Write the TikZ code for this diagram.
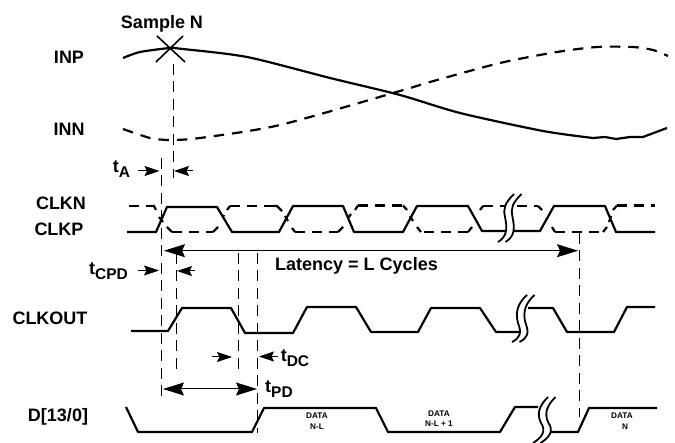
\documentclass[tikz,border=0pt]{standalone}
\usepackage{fontspec}
\setmainfont{Liberation Sans}
\usetikzlibrary{arrows.meta}
\newcommand{\tsub}[2]{\fontsize{18}{20}\selectfont\bfseries #1\raisebox{-4.5pt}{\fontsize{15.5}{16}\selectfont #2}}
\tikzset{
  sig/.style={line width=2.2pt,line join=round},
  sigd/.style={line width=2.2pt,dash pattern=on 10pt off 7pt},
  sigc/.style={line width=2.2pt},
  guide/.style={line width=1pt,dash pattern=on 11pt off 6.5pt},
  dim/.style={line width=1pt},
  lab/.style={font=\fontsize{18}{20}\selectfont\bfseries,inner sep=0pt},
  sm/.style={font=\fontsize{8.2}{9}\selectfont\bfseries,inner sep=0pt},
  brk/.style={line width=1.8pt},
  hsmall/.tip={Stealth[length=15pt,width=10pt,inset=2.5pt]},
  hlarge/.tip={Stealth[length=21pt,width=13pt,inset=3pt]},
}
\newcommand{\breakmark}[7]{%
  \fill[white] (#1) .. controls (#2) and (#3) .. (#4) .. controls (#5) and (#6) .. (#7) -- ([xshift=7.5pt]#7) .. controls ([xshift=7.5pt]#6) and ([xshift=7.5pt]#5) .. ([xshift=7.5pt]#4) .. controls ([xshift=7.5pt]#3) and ([xshift=7.5pt]#2) .. ([xshift=7.5pt]#1) -- cycle;
  \draw[brk] (#1) .. controls (#2) and (#3) .. (#4) .. controls (#5) and (#6) .. (#7);
  \draw[brk] ([xshift=7.5pt]#1) .. controls ([xshift=7.5pt]#2) and ([xshift=7.5pt]#3) .. ([xshift=7.5pt]#4) .. controls ([xshift=7.5pt]#5) and ([xshift=7.5pt]#6) .. ([xshift=7.5pt]#7);
}
\begin{document}
\begin{tikzpicture}[x=1pt,y=-1pt]
\useasboundingbox (0,0) rectangle (675,443);
% labels
\node[lab] (sn) at (162,23.5) {Sample N};
\node[lab] (inp) at (69,57) {INP};
\node[lab] (inn) at (69,129) {INN};
\node[lab] (clkn) at (61,203) {CLKN};
\node[lab] (clkp) at (59,229) {CLKP};
\node[lab] (clko) at (50,318) {CLKOUT};
\node[lab] (dd) at (58,417) {D[13/0]};
\node[lab] (lat) at (356.5,266) {Latency = L Cycles};
\node[inner sep=0pt] (ta) at (121.5,169) {\tsub{t}{A}};
\node[inner sep=0pt] (tc) at (108.5,271) {\tsub{t}{CPD}};
\node[inner sep=0pt] (tdc) at (295,358) {\tsub{t}{DC}};
\node[inner sep=0pt] (tpd) at (279,389) {\tsub{t}{PD}};
\node[sm] (d1) at (317,416) {DATA};
\node[sm] (d1b) at (317,427) {N-L};
\node[sm] (d2) at (439,413.5) {DATA};
\node[sm] (d2b) at (439,423.5) {N-L + 1};
\node[sm] (d3) at (622,416) {DATA};
\node[sm] (d3b) at (625,427) {N};
% analog
\draw[sig] plot[smooth,tension=.45] coordinates {(123,58) (140,52) (170,48) (180,48.7) (247,57) (330,78) (400,95) (460,113) (543,131) (593,138)} -- (605,137) -- (616,139) -- (630,137) -- (643,137) -- (667,128);
\draw[line width=2.2pt,dash pattern=on 10.5pt off 8pt] plot[smooth,tension=.45] coordinates {(123,129) (150,138) (170,140) (200,138) (280,125) (400,91) (430,82) (500,63) (557,52) (597,47) (633,47) (653,50) (668,56)};
\draw[line width=1.6pt] (157,36) -- (185,62) (183,36) -- (156,62);
% guides
\draw[guide] (173.3,64) -- (173.3,178);
\draw[guide] (161.7,158) -- (161.7,402);
\draw[guide] (176.4,253) -- (176.4,373);
\draw[guide] (238.5,253) -- (238.5,373);
\draw[guide] (257.3,253) -- (257.3,433);
\draw[guide] (579.3,233) -- (579.3,417);
% dimension arrows
\draw[dim,-hsmall] (138,171) -- (159.5,171);
\draw[dim,-hsmall] (193,171) -- (174,171);
\draw[dim,-hsmall] (138,270.5) -- (159,270.5);
\draw[dim,-hsmall] (195,271) -- (177,271);
\draw[dim,-hsmall] (212,357) -- (232,357);
\draw[dim,-hsmall] (278,356.5) -- (259,356.5);
\draw[dim,hlarge-hlarge] (163,389) -- (257,389);
\draw[dim,hlarge-hlarge] (164,250.7) -- (578,250.7);
% CLKP
\draw[sig] (127,232) -- (156,232) -- (167,207) -- (217,207) -- (232,232) -- (279,232) -- (293,206) -- (343,206) -- (354,232) -- (403,232) -- (417,206) -- (468,206) -- (482,231) -- (540,231) -- (554,206) -- (605,206) -- (616,232) -- (655,232);
% CLKN
\draw[sigd] (129,206) -- (151,206);
\draw[sigc] (151,206) -- (154,206) -- (156,210);
\draw[sigc] (159,217) -- (163,222);
\draw[sigc] (167,227) -- (172,232);
\draw[sigd] (172,232) -- (213,232);
\draw[sigc] (213,232) -- (218,227);
\draw[sigc] (223,217) -- (224,215);
\draw[sigc] (227,210) -- (230,206);
\draw[sigd] (230,206) -- (273,206);
\draw[sigc] (273,206) -- (277,206) -- (282,211);
\draw[sigc] (285,216) -- (288,221);
\draw[sigc] (292,228) -- (295,232);
\draw[sigd] (295,232) -- (338,232);
\draw[sigc] (338,232) -- (343,227);
\draw[sigc] (348,218) -- (351,214);
\draw[sigc] (355,210) -- (358,205.5);
\draw[sigd] (358,205.5) -- (403,205.5);
\draw[sigc] (403,205.5) -- (407,210);
\draw[sigc] (410,216) -- (413,221);
\draw[sigc] (417,227) -- (421,232);
\draw[sigd] (424,232) -- (468,232);
\draw[sigc] (468,232) -- (472,227);
\draw[sigc] (480,210) -- (483,206);
\draw[sigd] (483,206) -- (538,206);
\draw[sigc] (538,206) -- (542,210);
\draw[sigc] (552,227) -- (555,232);
\draw[sigd] (555,232) -- (603,232);
\draw[sigc] (603,232) -- (607,227);
\draw[sigc] (609,222) -- (611,216);
\draw[sigc] (613,210) -- (617,205.5);
\draw[sigd] (617,205.5) -- (655,205.5);
\breakmark{514,194}{505,203}{503,208}{505,217}{507,227}{508,236}{498,242}
% CLKOUT
\draw[sig] (131,331) -- (168,331) -- (182,308) -- (231,308) -- (245,333) -- (293,333) -- (307,307) -- (356,307) -- (371,332) -- (418,332) -- (431,308) -- (480,308) -- (496,332) -- (522,332);
\draw[sig] (528,308) -- (553,308) -- (567,332) -- (614,332) -- (627,307) -- (655,307);
\breakmark{527,295}{518,303}{515,312}{518,323}{522,333}{520,338}{512,342}
% D
\draw[sig] (126,407) -- (138,432) -- (252,432) -- (264,408) -- (376,408) -- (388,432) -- (500,432) -- (515,407) -- (538,407);
\draw[sig] (546,432) -- (578,432) -- (589,408) -- (657,408);
\breakmark{548,397}{540,405}{536,413}{541,423}{546,430}{543,437}{533,443}
\end{tikzpicture}
\end{document}
